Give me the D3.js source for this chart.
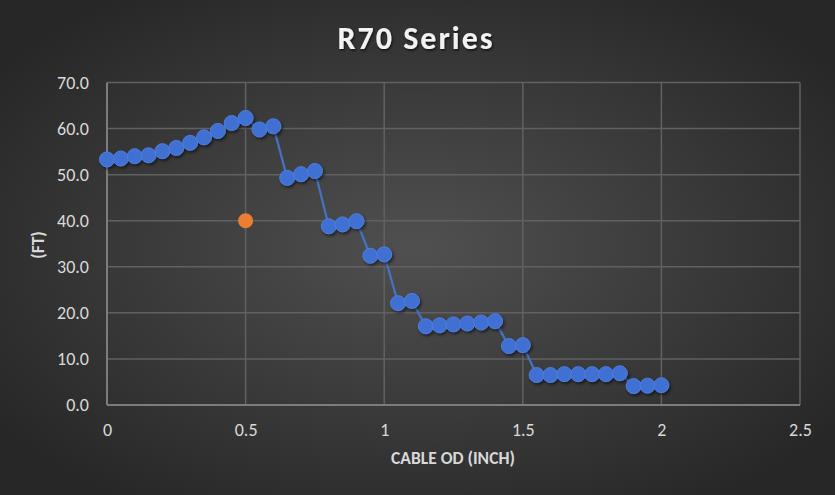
<!DOCTYPE html>
<html>
<head>
<meta charset="utf-8">
<script src="https://cdn.jsdelivr.net/npm/d3@7"></script>
<style>
  body { margin: 0; background: #2a2a2a; }
  svg { display: block; }
</style>
</head>
<body>
<script>
// cable OD (inch) vs length (ft)
var cableOD = [0, 0.05, 0.1, 0.15, 0.2, 0.25, 0.3, 0.35, 0.4, 0.45, 0.5, 0.55, 0.6, 0.65, 0.7, 0.75,
  0.8, 0.85, 0.9, 0.95, 1, 1.05, 1.1, 1.15, 1.2, 1.25, 1.3, 1.35, 1.4, 1.45, 1.5, 1.55, 1.6, 1.65,
  1.7, 1.75, 1.8, 1.85, 1.9, 1.95, 2];
var lengthFt = [53.3, 53.5, 54.0, 54.2, 55.1, 55.8, 56.9, 58.1, 59.5, 61.2, 62.3, 59.8, 60.5, 49.3, 50.1, 50.8,
  38.8, 39.2, 39.9, 32.4, 32.7, 22.1, 22.6, 17.1, 17.3, 17.5, 17.7, 17.9, 18.2, 12.8, 13.0, 6.5, 6.5, 6.7,
  6.7, 6.7, 6.7, 6.9, 4.1, 4.2, 4.3];
var extraOD = [0.5];
var extraFt = [40.0];
var xTicks = [0, 0.5, 1, 1.5, 2, 2.5];
var yTicks = [0, 10, 20, 30, 40, 50, 60, 70];

const W = 835, H = 495;
const margin = {top: 82.5, bottom: 90, right: 35, left: 107},
    width = W - margin.left - margin.right,
    height = H - margin.top - margin.bottom;

let svg = d3.select("body")
    .append("svg")
    .attr("width", W)
    .attr("height", H);

var defs = svg.append("defs");
var grad = defs.append("radialGradient")
    .attr("id", "bg")
    .attr("cx", "50%").attr("cy", "50%").attr("r", "62%");
grad.append("stop").attr("offset", "0%").attr("stop-color", "#505050");
grad.append("stop").attr("offset", "100%").attr("stop-color", "#272727");

var shadow = defs.append("filter").attr("id", "shadow")
    .attr("x", "-50%").attr("y", "-50%").attr("width", "200%").attr("height", "200%");
shadow.append("feDropShadow")
    .attr("dx", 1.5).attr("dy", 2).attr("stdDeviation", 1.5)
    .attr("flood-color", "#000").attr("flood-opacity", 0.55);

var titleShadow = defs.append("filter").attr("id", "tshadow");
titleShadow.append("feDropShadow")
    .attr("dx", 1).attr("dy", 1.5).attr("stdDeviation", 1)
    .attr("flood-color", "#000").attr("flood-opacity", 0.7);

svg.append("rect")
    .attr("width", W).attr("height", H)
    .attr("fill", "url(#bg)");

var x = d3.scaleLinear()
    .domain([0, 2.5])
    .range([0, width]);

var y = d3.scaleLinear()
    .domain([0, 70])
    .range([height, 0]);

var g = svg.append("g")
    .attr("transform", "translate(" + margin.left + "," + margin.top + ")");

var fontStack = "Carlito, 'Liberation Sans Narrow', 'Open Sans', sans-serif";

// gridlines
g.append("g")
    .selectAll("line")
    .data(yTicks.filter(d => d > 0))
    .join("line")
    .attr("x1", 0).attr("x2", width)
    .attr("y1", d => y(d)).attr("y2", d => y(d))
    .attr("stroke", "#616161").attr("stroke-width", 1.5);

g.append("g")
    .selectAll("line")
    .data(xTicks.filter(d => d > 0))
    .join("line")
    .attr("x1", d => x(d)).attr("x2", d => x(d))
    .attr("y1", 0).attr("y2", height)
    .attr("stroke", "#616161").attr("stroke-width", 1.5);

// axis lines
g.append("line")
    .attr("x1", 0).attr("x2", 0).attr("y1", 0).attr("y2", height)
    .attr("stroke", "#7c7c7c").attr("stroke-width", 2);
g.append("line")
    .attr("x1", 0).attr("x2", width).attr("y1", height).attr("y2", height)
    .attr("stroke", "#7c7c7c").attr("stroke-width", 2);

// Add the x Axis labels
var xAxis = g.append("g")
    .attr("transform", "translate(0," + height + ")")
    .call(d3.axisBottom(x).tickValues(xTicks).tickSize(0).tickPadding(18).tickFormat(d3.format("")));
xAxis.select(".domain").remove();
xAxis.selectAll("text")
    .attr("fill", "#d9d9d9")
    .style("font-family", fontStack)
    .style("font-size", "18px");

// Add the y Axis labels
var yAxis = g.append("g")
    .call(d3.axisLeft(y).tickValues(yTicks).tickSize(0).tickPadding(18).tickFormat(d3.format(".1f")));
yAxis.select(".domain").remove();
yAxis.selectAll("text")
    .attr("fill", "#d9d9d9")
    .style("font-family", fontStack)
    .style("font-size", "18px");

// series line
var line = d3.line()
    .x((d, i) => x(cableOD[i]))
    .y(d => y(d));

g.append("path")
    .datum(lengthFt)
    .attr("fill", "none")
    .attr("stroke", "#4472c4")
    .attr("stroke-width", 2.25)
    .attr("d", line);

g.append("g")
    .attr("filter", "url(#shadow)")
    .selectAll("circle")
    .data(lengthFt)
    .join("circle")
    .attr("cx", (d, i) => x(cableOD[i]))
    .attr("cy", d => y(d))
    .attr("r", 7.5)
    .attr("fill", "#4070d2")
    .attr("stroke", "#4d7ee2")
    .attr("stroke-width", 1);

g.append("g")
    .selectAll("circle")
    .data(extraFt)
    .join("circle")
    .attr("cx", (d, i) => x(extraOD[i]))
    .attr("cy", d => y(d))
    .attr("r", 7.5)
    .attr("fill", "#ed7d31");

// titles
svg.append("text")
    .attr("x", 416).attr("y", 49)
    .attr("text-anchor", "middle")
    .attr("fill", "#f2f2f2")
    .attr("filter", "url(#tshadow)")
    .style("font-family", fontStack)
    .style("font-size", "32px")
    .style("font-weight", "bold")
    .style("letter-spacing", "2px")
    .text("R70 Series");

svg.append("text")
    .attr("x", 453).attr("y", 464)
    .attr("text-anchor", "middle")
    .attr("fill", "#d9d9d9")
    .style("font-family", fontStack)
    .style("font-size", "17.5px")
    .style("font-weight", "bold")
    .text("CABLE OD (INCH)");

svg.append("text")
    .attr("transform", "translate(44,245) rotate(-90)")
    .attr("text-anchor", "middle")
    .attr("fill", "#d9d9d9")
    .style("font-family", fontStack)
    .style("font-size", "17.5px")
    .style("font-weight", "bold")
    .text("(FT)");
</script>
</body>
</html>
